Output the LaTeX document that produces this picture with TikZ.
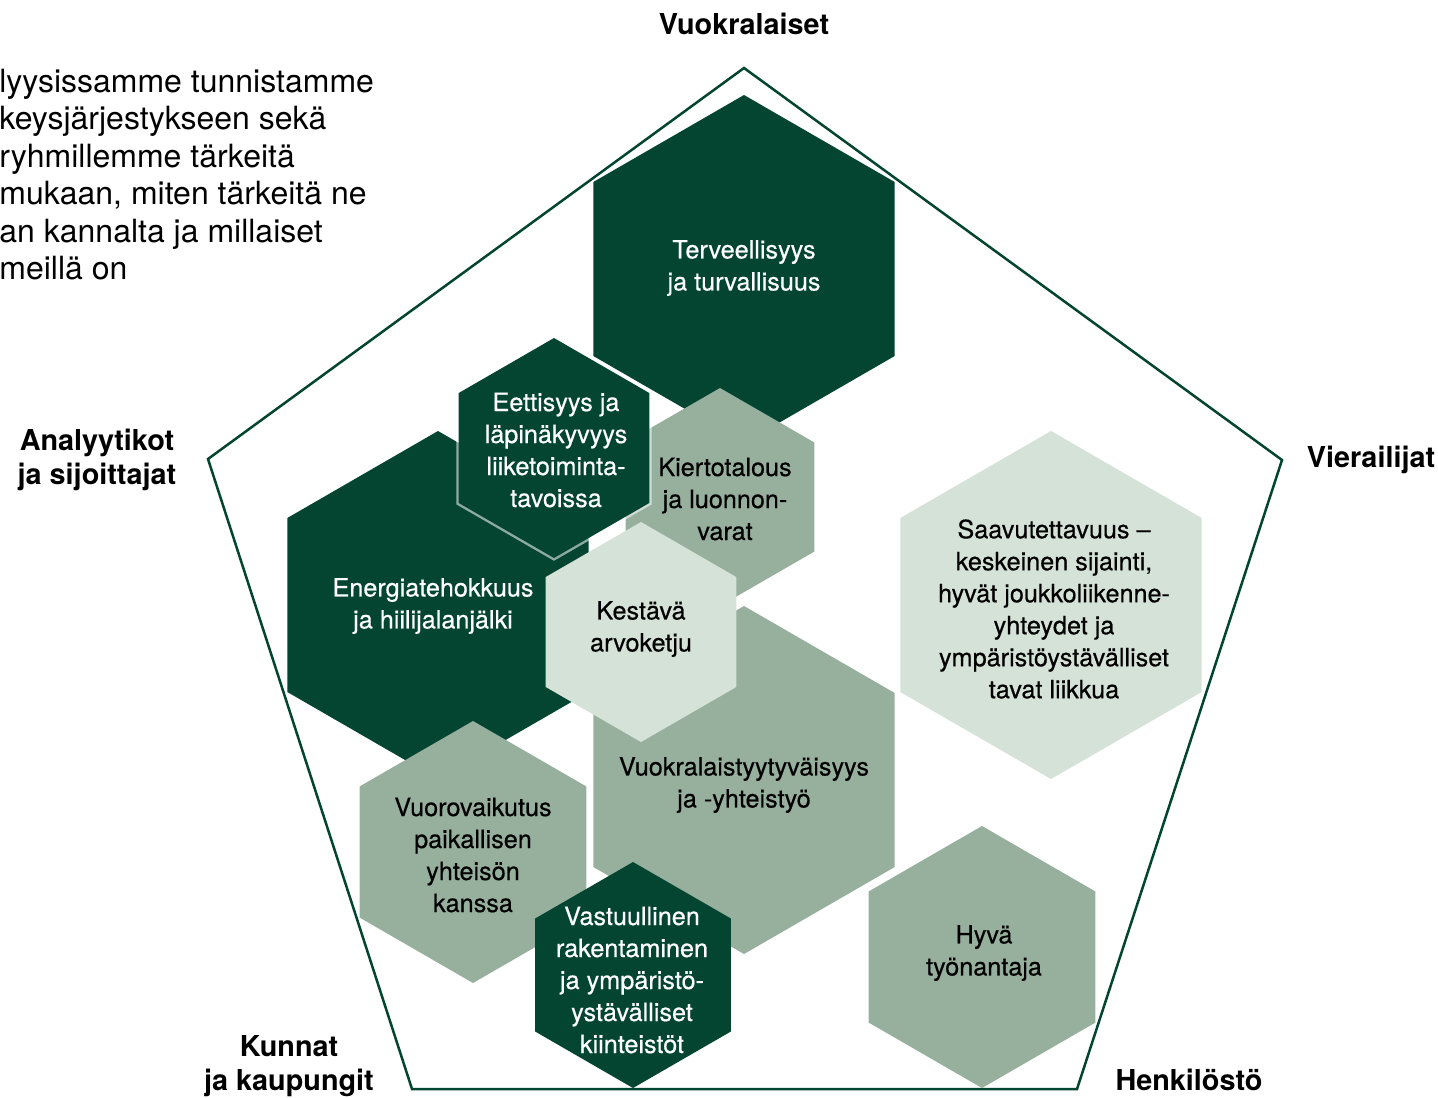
\documentclass[tikz,border=0pt]{standalone}
\usepackage{fontspec}
\setmainfont{TeX Gyre Heros}
\newfontfamily\medfont[FakeBold=0.5]{TeX Gyre Heros}
\definecolor{dk}{HTML}{034531}
\definecolor{md}{HTML}{97B09E}
\definecolor{lt}{HTML}{D5E2D8}
\newcommand{\hexshape}[4]{\fill[#1, shift={(#2,#3)}] (90:#4) -- (150:#4) -- (210:#4) -- (270:#4) -- (330:#4) -- (30:#4) -- cycle;}
\begin{document}
\begin{tikzpicture}[x=0.5pt,y=-0.5pt,
  lbl/.style={align=center, inner sep=0pt, font=\medfont\fontsize{12.6}{16}\selectfont},
  ondark/.style={lbl, text=white},
  onlight/.style={lbl, text=black},
  head/.style={align=center, inner sep=0pt, font=\fontsize{14.4}{17}\selectfont\bfseries},
  introline/.style={anchor=base west, inner sep=0pt, font=\fontsize{16}{18.75}\selectfont}]
\useasboundingbox (0,0) rectangle (1438,1097);
\fill[white] (0,0) rectangle (1438,1097);
% pentagon
\coordinate (pT) at (744,68);
\coordinate (pR) at (1282,460);
\coordinate (pBR) at (1077,1089);
\coordinate (pBL) at (412,1089);
\coordinate (pL) at (208,459);
\draw[dk, line width=1.25pt, line join=miter] (pT) -- (pR) -- (pBR) -- (pBL) -- (pL) -- cycle;
% hexagons
\hexshape{dk}{744}{269}{174}
\hexshape{md}{720}{497}{109}
\hexshape{dk}{438}{605}{174}
\draw[white, draw opacity=0.55, line width=2.4pt, line join=miter, shift={(554,448)}] (90:110) -- (150:110) -- (210:110) -- (270:110) -- (330:110) -- (30:110) -- cycle;
\hexshape{dk}{554}{448}{110}
\hexshape{md}{744}{780}{174}
\hexshape{lt}{641}{632}{110}
\hexshape{lt}{1051}{605}{174}
\hexshape{md}{473}{852}{131}
\hexshape{dk}{633}{975}{113}
\hexshape{md}{982}{957}{131}
% labels
\node[ondark] (tTerv) at (744,268) {Terveellisyys\\ja turvallisuus};
\node[onlight] (tKier) at (725,499) {Kiertotalous\\ja luonnon-\\varat};
\node[ondark] (tEner) at (433,606) {Energiatehokkuus\\ja hiilijalanjälki};
\node[ondark] (tEett) at (556,450) {Eettisyys ja\\läpinäkyvyys\\liiketoiminta-\\tavoissa};
\node[onlight] (tVuok) at (744,785) {Vuokralaistyytyväisyys\\ja -yhteistyö};
\node[onlight] (tKest) at (641,629) {Kestävä\\arvoketju};
\node[onlight] (tSaav) at (1054,609) {Saavutettavuus –\\keskeinen sijainti,\\hyvät joukkoliikenne-\\yhteydet ja\\ympäristöystävälliset\\tavat liikkua};
\node[onlight] (tVuor) at (473,855) {Vuorovaikutus\\paikallisen\\yhteisön\\kanssa};
\node[ondark] (tVast) at (632,980) {Vastuullinen\\rakentaminen\\ja ympäristö-\\ystävälliset\\kiinteistöt};
\node[onlight] (tHyva) at (984,953) {Hyvä\\työnantaja};
% headings
\node[head] (hVuok) at (744,24) {Vuokralaiset};
\node[head] (hAnal) at (97,460) {Analyytikot\\ja sijoittajat};
\node[head] (hVier) at (1371,460) {Vierailijat};
\node[head] (hKunn) at (289,1066) {Kunnat\\ja kaupungit};
\node[head] (hHenk) at (1189,1080) {Henkilöstö};
% intro text
\node[introline] (i1) at (-1,92) {lyysissamme tunnistamme};
\node[introline] (i2) at (-1,129.5) {keysjärjestykseen sekä};
\node[introline] (i3) at (-1,167) {ryhmillemme tärkeitä};
\node[introline] (i4) at (-1,204.5) {mukaan, miten tärkeitä ne};
\node[introline] (i5) at (-1,242) {an kannalta ja millaiset};
\node[introline] (i6) at (-1,279.5) {meillä on};
\end{tikzpicture}
\end{document}
